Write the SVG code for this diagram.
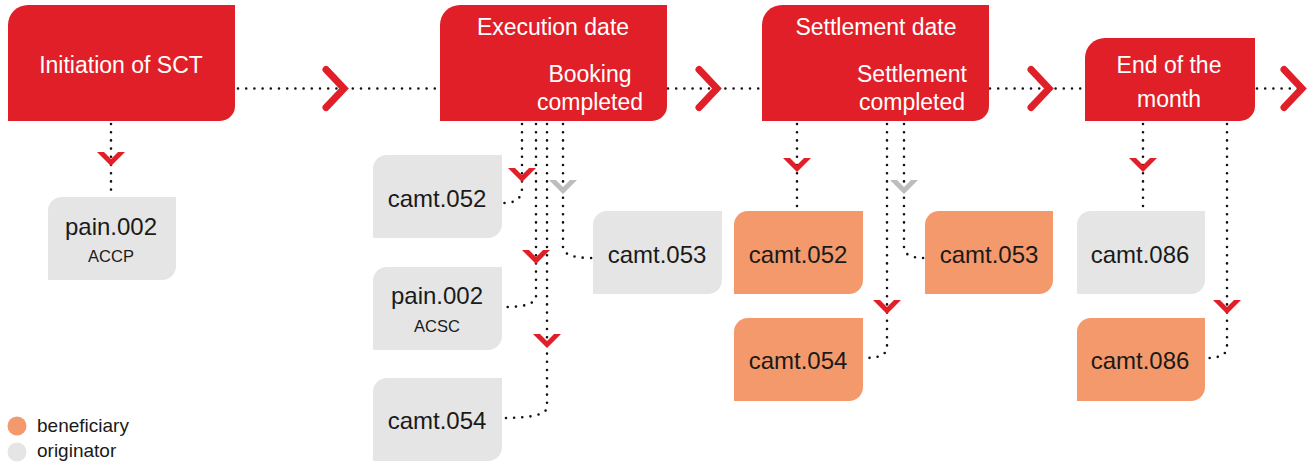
<svg xmlns="http://www.w3.org/2000/svg" width="1311" height="463" viewBox="0 0 1311 463">
<style>
.hdr{fill:#e11f28}
.ben{fill:#f4996b}
.org{fill:#e5e5e5}
.ht{font-family:"Liberation Sans",Arial,sans-serif;font-size:23px;fill:#ffffff;text-anchor:middle}
.bt{font-family:"Liberation Sans",Arial,sans-serif;font-size:24px;fill:#1a1a1a;text-anchor:middle}
.st{font-family:"Liberation Sans",Arial,sans-serif;font-size:16.5px;fill:#1a1a1a;text-anchor:middle}
.lt{font-family:"Liberation Sans",Arial,sans-serif;font-size:19px;fill:#1a1a1a}
.dot{fill:none;stroke:#111;stroke-width:2.6;stroke-linecap:round;stroke-dasharray:0 8.2}
.rch{fill:none;stroke:#e11f28;stroke-width:7;stroke-linejoin:miter;stroke-linecap:round}
</style>
<defs>
<polygon id="dv" points="-14,0 -7,0 0,7 7,0 14,0 0,14"/>
<path id="rv" d="M-22,-19 L-4,0 L-22,19"/>
</defs>

<g id="connectors">
<path class="dot" d="M238,88.5 H440"/>
<path class="dot" d="M668,88.5 H762"/>
<path class="dot" d="M990,88.5 H1085"/>
<path class="dot" d="M1257,88.5 H1302"/>
<path class="dot" d="M111,124 V196"/>
<path class="dot" d="M522,124 V188 Q522,203 504,203"/>
<path class="dot" d="M536,124 V296 Q536,307 505,307"/>
<path class="dot" d="M547,124 V407 Q547,418 503,418"/>
<path class="dot" d="M563,124 V247 Q563,258 592,258"/>
<path class="dot" d="M797,124 V210"/>
<path class="dot" d="M887,124 V347 Q887,358 865,358"/>
<path class="dot" d="M904,124 V247 Q904,258 924,258"/>
<path class="dot" d="M1143,124 V210"/>
<path class="dot" d="M1227,124 V347 Q1227,358 1207,358"/>
<g class="rch">
<use href="#rv" x="348" y="88.5"/>
<use href="#rv" x="721" y="88.5"/>
<use href="#rv" x="1053" y="88.5"/>
<use href="#rv" x="1306" y="88.5"/>
</g>
<g fill="#e11f28">
<use href="#dv" x="111" y="152"/>
<use href="#dv" x="522" y="168"/>
<use href="#dv" x="536" y="250"/>
<use href="#dv" x="547" y="334"/>
<use href="#dv" x="797" y="158"/>
<use href="#dv" x="887" y="300"/>
<use href="#dv" x="1143" y="158"/>
<use href="#dv" x="1227" y="300"/>
</g>
<g fill="#bdbdbd">
<use href="#dv" x="563" y="180"/>
<use href="#dv" x="904" y="180"/>
</g>
</g>

<g id="initiation">
<path class="hdr" d="M28,5 H235 V106 A15,15 0 0 1 220,121 H8 V25 A20,20 0 0 1 28,5 Z"/>
<text class="ht" x="121" y="73">Initiation of SCT</text>
</g>
<g id="execution">
<path class="hdr" d="M460,5 H667 V106 A15,15 0 0 1 652,121 H440 V25 A20,20 0 0 1 460,5 Z"/>
<text class="ht" x="553" y="35">Execution date</text>
<text class="ht" x="590" y="82">Booking</text>
<text class="ht" x="590" y="110">completed</text>
</g>
<g id="settlement">
<path class="hdr" d="M782,5 H989 V106 A15,15 0 0 1 974,121 H762 V25 A20,20 0 0 1 782,5 Z"/>
<text class="ht" x="876" y="35">Settlement date</text>
<text class="ht" x="912" y="82">Settlement</text>
<text class="ht" x="912" y="110">completed</text>
</g>
<g id="endmonth">
<path class="hdr" d="M1105,38 H1255 V106 A15,15 0 0 1 1240,121 H1085 V58 A20,20 0 0 1 1105,38 Z"/>
<text class="ht" x="1169" y="73">End of the</text>
<text class="ht" x="1169" y="107">month</text>
</g>

<g id="pain002-accp">
<path class="org" d="M62,197 H176 V266 A14,14 0 0 1 162,280 H48 V211 A14,14 0 0 1 62,197 Z"/>
<text class="bt" x="111" y="235">pain.002</text>
<text class="st" x="111" y="262">ACCP</text>
</g>
<g id="camt052-orig">
<path class="org" d="M387,155 H502 V224 A14,14 0 0 1 488,238 H373 V169 A14,14 0 0 1 387,155 Z"/>
<text class="bt" x="437" y="207">camt.052</text>
</g>
<g id="pain002-acsc">
<path class="org" d="M387,267 H502 V336 A14,14 0 0 1 488,350 H373 V281 A14,14 0 0 1 387,267 Z"/>
<text class="bt" x="437" y="304">pain.002</text>
<text class="st" x="437" y="332">ACSC</text>
</g>
<g id="camt054-orig">
<path class="org" d="M387,378 H502 V447 A14,14 0 0 1 488,461 H373 V392 A14,14 0 0 1 387,378 Z"/>
<text class="bt" x="437" y="429">camt.054</text>
</g>
<g id="camt053-orig">
<path class="org" d="M607,211 H722 V280 A14,14 0 0 1 708,294 H593 V225 A14,14 0 0 1 607,211 Z"/>
<text class="bt" x="657" y="263">camt.053</text>
</g>
<g id="camt052-ben">
<path class="ben" d="M748,211 H863 V280 A14,14 0 0 1 849,294 H734 V225 A14,14 0 0 1 748,211 Z"/>
<text class="bt" x="798" y="263">camt.052</text>
</g>
<g id="camt053-ben">
<path class="ben" d="M939,211 H1053 V280 A14,14 0 0 1 1039,294 H925 V225 A14,14 0 0 1 939,211 Z"/>
<text class="bt" x="989" y="263">camt.053</text>
</g>
<g id="camt054-ben">
<path class="ben" d="M748,318 H863 V387 A14,14 0 0 1 849,401 H734 V332 A14,14 0 0 1 748,318 Z"/>
<text class="bt" x="798" y="369">camt.054</text>
</g>
<g id="camt086-orig">
<path class="org" d="M1091,211 H1205 V280 A14,14 0 0 1 1191,294 H1077 V225 A14,14 0 0 1 1091,211 Z"/>
<text class="bt" x="1140" y="263">camt.086</text>
</g>
<g id="camt086-ben">
<path class="ben" d="M1091,318 H1205 V387 A14,14 0 0 1 1191,401 H1077 V332 A14,14 0 0 1 1091,318 Z"/>
<text class="bt" x="1140" y="369">camt.086</text>
</g>

<g id="legend">
<circle class="ben" cx="17" cy="426" r="9.5"/>
<text class="lt" x="37" y="432">beneficiary</text>
<circle class="org" cx="17" cy="452" r="9.5"/>
<text class="lt" x="37" y="457">originator</text>
</g>
</svg>
